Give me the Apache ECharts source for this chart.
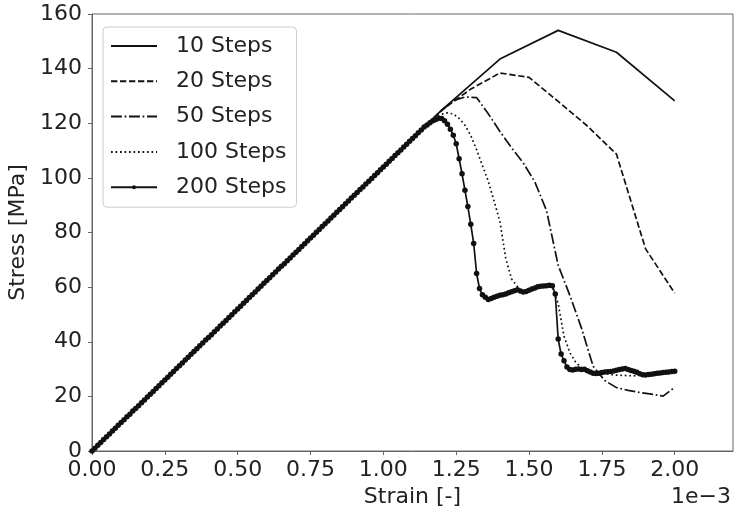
<!DOCTYPE html>
<html>
<head>
<meta charset="utf-8">
<script src="https://cdn.jsdelivr.net/npm/echarts@6/dist/echarts.min.js"></script>
<style>
  html, body { margin: 0; padding: 0; background: #ffffff; }
  #chart { width: 734px; height: 510px; }
</style>
</head>
<body>
<div id="chart"></div>
<script>
// Load-step refinement study: stress-strain response for 10 to 200 load steps.
// Strain is given in units of 1e-3, stress in MPa; each run spans 0 .. 2.0e-3.
const runLabels = ['10 Steps', '20 Steps', '50 Steps', '100 Steps', '200 Steps'];
const runSteps = [10, 20, 50, 100, 200];
const strainEnd = 2.0;

const xTicks = [0, 0.25, 0.5, 0.75, 1.0, 1.25, 1.5, 1.75, 2.0];
const yTicks = [0, 20, 40, 60, 80, 100, 120, 140, 160];

const stress10 = [0, 20.8, 41.6, 62.4, 83.2, 104.0, 124.8, 143.5, 154.0, 146.0, 128.2];

const stress20 = [0, 10.4, 20.8, 31.2, 41.6, 52.0, 62.4, 72.8, 83.2, 93.6, 104.0,
  114.4, 124.8, 132.5, 138.4, 136.8, 128.0, 119.0, 108.7, 74.0, 57.8];

const stress50 = [0, 4.2, 8.3, 12.5, 16.6, 20.8, 25.0, 29.1, 33.3, 37.4, 41.6,
  45.8, 49.9, 54.1, 58.2, 62.4, 66.6, 70.7, 74.9, 79.0, 83.2,
  87.4, 91.5, 95.7, 99.8, 104.0, 108.2, 112.3, 116.5, 120.6, 124.6,
  128.3, 129.6, 129.4, 123.5, 117.0, 111.0, 105.5, 98.5, 88.0, 68.0,
  57.0, 45.0, 31.0, 25.8, 23.2, 22.2, 21.4, 20.8, 20.1, 23.3];

const stress100 = [0, 2.1, 4.2, 6.2, 8.3, 10.4, 12.5, 14.6, 16.6, 18.7, 20.8,
  22.9, 25.0, 27.0, 29.1, 31.2, 33.3, 35.4, 37.4, 39.5, 41.6,
  43.7, 45.8, 47.8, 49.9, 52.0, 54.1, 56.2, 58.2, 60.3, 62.4,
  64.5, 66.6, 68.6, 70.7, 72.8, 74.9, 77.0, 79.0, 81.1, 83.2,
  85.3, 87.4, 89.4, 91.5, 93.6, 95.7, 97.8, 99.8, 101.9, 104.0,
  106.1, 108.2, 110.2, 112.3, 114.4, 116.5, 118.6, 120.5, 122.2, 123.3,
  123.8, 123.4, 121.8, 119.3, 115.5, 110.3, 104.5, 98.8, 91.5, 84.0,
  70.6, 63.0, 60.2, 58.0, 58.5, 59.4, 60.0, 60.2, 60.0, 54.0,
  42.0, 36.0, 32.5, 30.5, 29.5, 29.0, 28.6, 28.3, 28.0, 27.8,
  27.7, 27.6, 27.5, 28.2, 28.4, 28.5, 28.6, 28.7, 28.8, 29.0];

const stress200 = [0, 1.0, 2.1, 3.1, 4.2, 5.2, 6.2, 7.3, 8.3, 9.4, 10.4,
  11.4, 12.5, 13.5, 14.6, 15.6, 16.6, 17.7, 18.7, 19.8, 20.8,
  21.8, 22.9, 23.9, 25.0, 26.0, 27.0, 28.1, 29.1, 30.2, 31.2,
  32.2, 33.3, 34.3, 35.4, 36.4, 37.4, 38.5, 39.5, 40.6, 41.6,
  42.6, 43.7, 44.7, 45.8, 46.8, 47.8, 48.9, 49.9, 51.0, 52.0,
  53.0, 54.1, 55.1, 56.2, 57.2, 58.2, 59.3, 60.3, 61.4, 62.4,
  63.4, 64.5, 65.5, 66.6, 67.6, 68.6, 69.7, 70.7, 71.8, 72.8,
  73.8, 74.9, 75.9, 77.0, 78.0, 79.0, 80.1, 81.1, 82.2, 83.2,
  84.2, 85.3, 86.3, 87.4, 88.4, 89.4, 90.5, 91.5, 92.6, 93.6,
  94.6, 95.7, 96.7, 97.8, 98.8, 99.8, 100.9, 101.9, 103.0, 104.0,
  105.0, 106.1, 107.1, 108.2, 109.2, 110.2, 111.3, 112.3, 113.4, 114.4,
  115.4, 116.5, 117.5, 118.6, 119.4, 120.2, 120.9, 121.4, 121.8, 121.7,
  120.9, 119.6, 117.8, 115.6, 112.5, 107.0, 101.5, 95.5, 89.5, 83.0,
  76.0, 65.0, 59.5, 57.2, 56.3, 55.5, 55.8, 56.3, 56.7, 57.0,
  57.2, 57.5, 57.9, 58.3, 58.7, 59.0, 58.6, 58.2, 58.4, 58.9,
  59.3, 59.7, 60.1, 60.3, 60.4, 60.5, 60.7, 60.5, 57.5, 41.0,
  35.5, 33.0, 30.8, 29.8, 29.7, 29.9, 30.0, 29.8, 29.9, 29.4,
  28.9, 28.5, 28.4, 28.5, 28.7, 28.9, 29.0, 29.1, 29.3, 29.6,
  29.8, 30.0, 30.2, 29.8, 29.5, 29.2, 28.8, 28.3, 27.9, 27.8,
  28.0, 28.1, 28.3, 28.5, 28.6, 28.7, 28.8, 28.9, 29.1, 29.2];

const stressRuns = [stress10, stress20, stress50, stress100, stress200];

// Matplotlib-like dash patterns (solid, '--', '-.', ':', solid with '.')
const lineWidth = 1.7;
const dashPatterns = ['solid', [6.3, 2.7], [10.9, 2.7, 1.7, 2.7], [1.7, 2.8], 'solid'];

const FONT = 'DejaVu Sans';
const TEXT = '#222222';
const FRAME = '#666666';
const INK = '#111111';

// Pair each stress value with the strain reached at that load increment.
function toPoints(values, steps) {
  const inc = strainEnd / steps;
  return values.map((s, i) => [+(i * inc).toFixed(4), s]);
}

const series = runLabels.map((name, k) => {
  const withMarker = k === 4;
  return {
    name: name,
    type: 'line',
    data: toPoints(stressRuns[k], runSteps[k]),
    symbol: withMarker ? 'circle' : 'none',
    symbolSize: 5.5,
    showSymbol: withMarker,
    itemStyle: { color: INK },
    lineStyle: { color: INK, width: lineWidth, type: dashPatterns[k], cap: 'butt' },
    emphasis: { disabled: true },
    clip: true,
    z: 2 + k
  };
});

// Only the 200-step entry carries a marker in the key.
const legendData = runLabels.map((name, k) => (
  k === 4 ? { name: name } : { name: name, itemStyle: { opacity: 0, borderWidth: 0 } }
));

const chart = echarts.init(document.getElementById('chart'), null, { renderer: 'canvas' });

chart.setOption({
  animation: false,
  backgroundColor: '#ffffff',
  textStyle: { fontFamily: FONT },
  grid: {
    left: 92, right: 1, top: 14, bottom: 59,
    outerBoundsMode: 'none',
    containLabel: false,
    show: true, borderColor: FRAME, borderWidth: 1, backgroundColor: 'transparent'
  },
  xAxis: {
    type: 'value',
    min: 0, max: 2.2,
    name: 'Strain [-]',
    nameLocation: 'middle',
    nameGap: 35,
    nameTextStyle: { fontSize: 22, color: TEXT, fontFamily: FONT },
    axisLine: { show: true, onZero: false, lineStyle: { color: FRAME, width: 1 } },
    axisTick: { show: true, inside: false, length: 4, customValues: xTicks, lineStyle: { color: FRAME, width: 1 } },
    axisLabel: {
      show: true, margin: 8, fontSize: 22, color: TEXT, fontFamily: FONT,
      customValues: xTicks,
      formatter: v => v.toFixed(2)
    },
    splitLine: { show: false }
  },
  yAxis: {
    type: 'value',
    min: 0, max: 160, interval: 20,
    name: 'Stress [MPa]',
    nameLocation: 'middle',
    nameGap: 55,
    nameTextStyle: { fontSize: 22, color: TEXT, fontFamily: FONT },
    axisLine: { show: true, onZero: false, lineStyle: { color: FRAME, width: 1 } },
    axisTick: { show: true, inside: false, length: 4, customValues: yTicks, lineStyle: { color: FRAME, width: 1 } },
    axisLabel: {
      show: true, margin: 10, fontSize: 22, color: TEXT, fontFamily: FONT,
      customValues: yTicks,
      formatter: v => String(v)
    },
    splitLine: { show: false }
  },
  legend: {
    orient: 'vertical',
    left: 103, top: 27,
    padding: [8, 10, 9, 7],
    itemGap: 13.3,
    itemWidth: 46,
    itemHeight: 5,
    selectedMode: false,
    data: legendData,
    textStyle: { fontSize: 22, lineHeight: 20, color: TEXT, fontFamily: FONT, padding: [0, 0, 0, 14] },
    borderColor: '#cccccc',
    borderWidth: 1,
    borderRadius: 4,
    backgroundColor: 'rgba(255,255,255,0.8)'
  },
  graphic: [{
    type: 'text',
    right: 3,
    top: 486,
    style: { text: '1e\u22123', font: '22px "DejaVu Sans"', fill: TEXT }
  }],
  series: series
});
</script>
</body>
</html>
